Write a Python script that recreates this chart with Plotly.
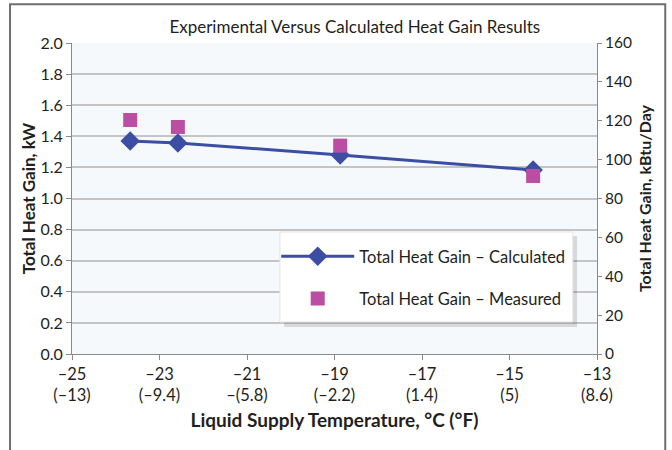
import plotly.graph_objects as go

title = "Experimental Versus Calculated Heat Gain Results"
x_tickvals = [-25, -23, -21, -19, -17, -15, -13]
x_ticktext = ["–25<br>(–13)", "–23<br>(–9.4)", "–21<br>–(5.8)", "–19<br>(–2.2)",
              "–17<br>(1.4)", "–15<br>(5)", "–13<br>(8.6)"]

calc_temp = [-23.67, -22.58, -18.87, -14.46]
calc_kw = [1.37, 1.357, 1.28, 1.183]

meas_temp = [-23.67, -22.58, -18.87, -14.46]
meas_kw = [1.505, 1.46, 1.34, 1.145]

KBTU_PER_KW = 80.0  # right axis scale: 2.0 kW <-> 160 kBtu/day on the chart

FONT = "Lato, 'Open Sans', sans-serif"
TXT = "#231f20"
GRID = "#c4c4c4"
AX = "#8a8a8a"

fig = go.Figure()
fig.add_trace(go.Scatter(
    x=calc_temp, y=calc_kw, mode="lines+markers",
    name="Total Heat Gain – Calculated", legendgroup="a",
    line=dict(color="#3b4ea3", width=3),
    marker=dict(symbol="diamond", size=15, color="#3b4ea3"),
))
fig.add_trace(go.Scatter(
    x=meas_temp, y=meas_kw, mode="markers",
    name="Total Heat Gain – Measured", legendgroup="b",
    marker=dict(symbol="square", size=14, color="#b94ea3"),
))
# invisible trace to activate the right-hand axis
fig.add_trace(go.Scatter(
    x=calc_temp, y=[v * KBTU_PER_KW for v in calc_kw], yaxis="y2",
    mode="lines", line=dict(width=0), opacity=0, showlegend=False, hoverinfo="skip",
))

# outer frame, legend shadow and legend box
fig.add_shape(type="rect", xref="paper", yref="paper",
              x0=-0.118, x1=1.13, y0=-0.4, y1=1.125,
              line=dict(color="#6e6e6e", width=2), fillcolor="rgba(0,0,0,0)", layer="below")
fig.add_shape(type="rect", xref="paper", yref="paper",
              x0=0.404, x1=0.962, y0=0.087, y1=0.379,
              line=dict(width=0), fillcolor="rgba(0,0,0,0.13)", layer="above")
fig.add_shape(type="rect", xref="paper", yref="paper",
              x0=0.396, x1=0.954, y0=0.103, y1=0.392,
              line=dict(color="#e4e4e4", width=1), fillcolor="white", layer="above")

fig.update_layout(
    width=672, height=450,
    margin=dict(l=72, r=75, t=43, b=96, autoexpand=False),
    paper_bgcolor="white",
    plot_bgcolor="#f6f9fc",
    font=dict(family=FONT, color=TXT, size=15),
    title=dict(text=title, x=0.528, xanchor="center", y=0.94, yanchor="middle",
               font=dict(size=17, color=TXT), automargin=False),
    xaxis=dict(range=[-25, -13], tickvals=x_tickvals, ticktext=x_ticktext,
               showgrid=False, zeroline=False, showline=True, linecolor=AX, linewidth=1,
               ticks="outside", ticklen=5, tickcolor=AX, automargin=False,
               tickfont=dict(size=16.5, color=TXT),
               title=dict(text="<b>Liquid Supply Temperature, °C (°F)</b>",
                          font=dict(size=19, color=TXT), standoff=9)),
    yaxis=dict(range=[0, 2.0], dtick=0.2, tickformat=".1f", automargin=False,
               showgrid=True, gridcolor=GRID, gridwidth=1.5, zeroline=False,
               showline=True, linecolor=AX, ticks="outside", ticklen=5, tickcolor=AX,
               tickfont=dict(size=16, color=TXT),
               title=dict(text="<b>Total Heat Gain, kW</b>", font=dict(size=17, color=TXT),
                          standoff=0)),
    yaxis2=dict(range=[0, 160], dtick=20, overlaying="y", side="right", anchor="x",
                showgrid=False, zeroline=False, showline=True, linecolor=AX, automargin=False,
                ticks="outside", ticklen=4, tickcolor=AX,
                tickfont=dict(size=15.5, color=TXT),
                title=dict(text="<b>Total Heat Gain, kBtu/Day</b>",
                           font=dict(size=16, color=TXT), standoff=8)),
    legend=dict(x=0.389, y=0.37, xanchor="left", yanchor="top",
                bgcolor="rgba(0,0,0,0)", borderwidth=0,
                font=dict(size=16.5, color=TXT), itemwidth=73,
                tracegroupgap=18),
    showlegend=True,
)

fig.write_html("out.html", config={"displayModeBar": False},
               post_script="document.body.style.margin='0';")
